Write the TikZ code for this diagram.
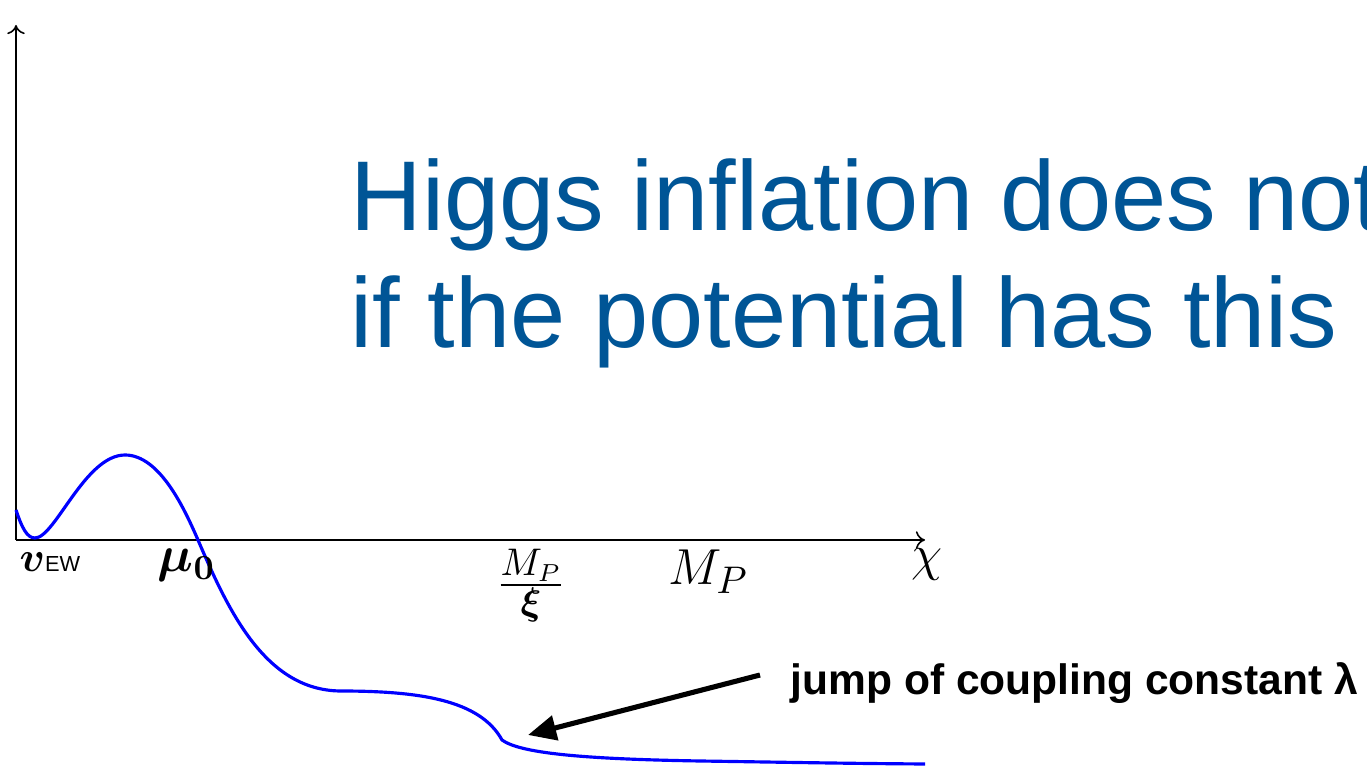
\documentclass[tikz,border=0pt]{standalone}
\usepackage{fontspec}
\usepackage{amsmath,bm}
\setmainfont{Liberation Sans}
\usetikzlibrary{arrows.meta}
\definecolor{titleblue}{RGB}{0,85,150}
\definecolor{curveblue}{RGB}{0,0,255}
\tikzset{
  axis/.style={line width=0.45pt,-{To[length=2.6pt,width=5pt]}},
  potential/.style={curveblue,line width=0.9pt,line join=round},
  titletext/.style={text=titleblue,inner sep=0pt,font=\fontsize{28.2}{33}\selectfont},
  mathlabel/.style={inner sep=0pt,font=\fontsize{15}{18}\selectfont},
  note/.style={inner sep=0pt,font=\fontsize{12.1}{14}\selectfont\bfseries},
  pointer/.style={line width=1.45pt,-{Triangle[length=8pt,width=7pt]}}
}
\begin{document}
\begin{tikzpicture}[x=0.01cm,y=-0.01cm]
\clip (0,0) rectangle (1367,768);
\useasboundingbox (0,0) rectangle (1367,768);
% axes
\coordinate (O) at (16,540);
\coordinate (ytip) at (16,25);
\coordinate (xtip) at (925,540);
\draw[axis] (O) -- (ytip);
\draw[axis] (O) -- (xtip);
% potential
\draw[potential] (16,510) .. controls (22,528) and (27,538) .. (35,538)
  .. controls (55,538) and (85,455) .. (125,455)
  .. controls (160,455) and (185,510) .. (198,540)
  .. controls (228,610) and (265,690) .. (340,691)
  .. controls (420,691) and (480,700) .. (502,740)
  .. controls (520,753) and (580,759) .. (700,761)
  .. controls (800,762.5) and (850,763.5) .. (925,764);
% title
\node[titletext,anchor=base west] (title1) at (350,231) {Higgs inflation does not};
\node[titletext,anchor=base west] (title2) at (350,348) {if the potential has this};
% labels
\node[mathlabel,anchor=base west] (vew) at (19,572) {\fontsize{13}{15}\selectfont$\boldsymbol{v}$\fontsize{6.2}{7}\selectfont EW};
\node[mathlabel,anchor=base west] (mu0) at (157,572) {\fontsize{14}{16}\selectfont$\boldsymbol{\mu_0}$};
\node[mathlabel] (mpxi) at (531,586) {$\frac{M_P}{\boldsymbol{\xi}}$};
\node[mathlabel,anchor=base west] (mp) at (668,585) {$M_P$};
\node[mathlabel,anchor=base west] (chi) at (911,571) {$\chi$};
% annotation
\node[note,anchor=base west] (jump) at (790,695) {jump of coupling constant λ};
\coordinate (atail) at (760,675);
\coordinate (ahead) at (528,735);
\draw[pointer] (atail) -- (ahead);
\end{tikzpicture}
\end{document}
